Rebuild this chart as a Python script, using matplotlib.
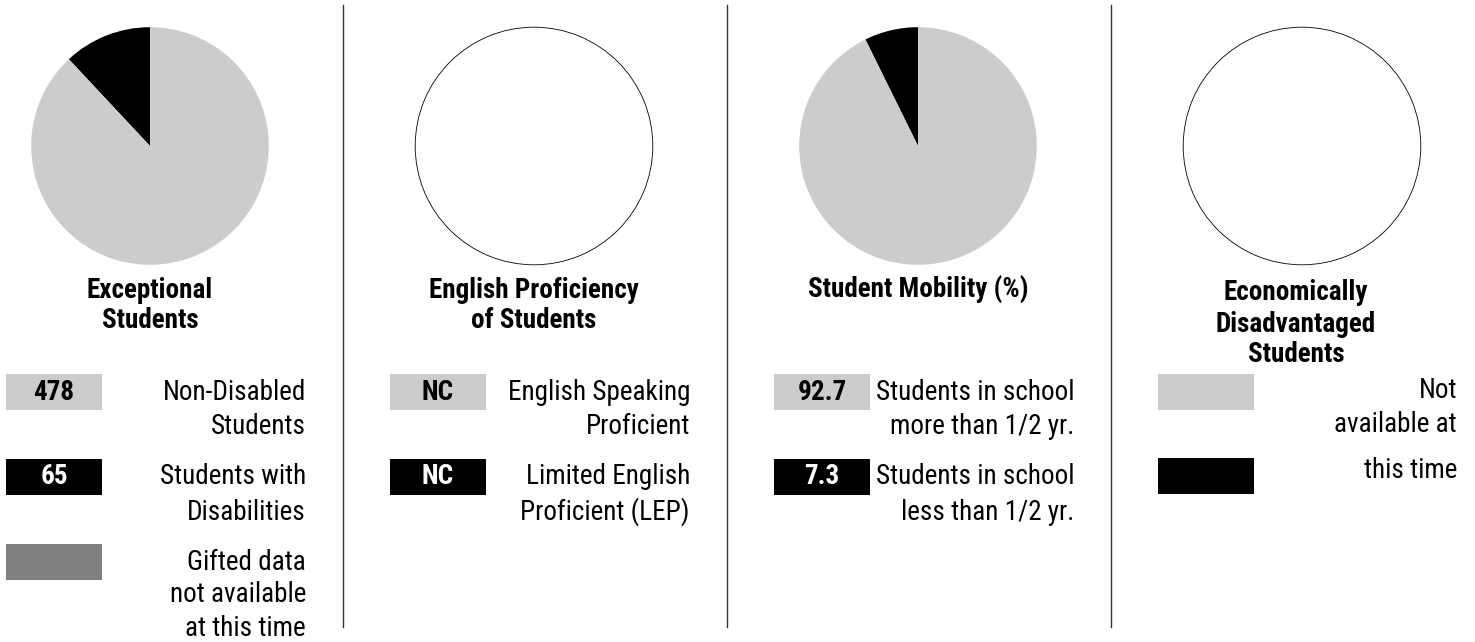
import matplotlib.pyplot as plt
from matplotlib.patches import Rectangle

plt.rcParams['font.family'] = ['Roboto Condensed', 'Roboto', 'DejaVu Sans']

# data
titles = ["Exceptional\nStudents", "English Proficiency\nof Students",
          "Student Mobility (%)", "Economically\nDisadvantaged\nStudents"]
pie_values = [[65, 478], [], [7.3, 92.7], []]
box_values = [["478", "65", ""], ["NC", "NC"], ["92.7", "7.3"], ["", ""]]
box_labels = [["Non-Disabled\nStudents", "Students with\nDisabilities",
               "Gifted data\nnot available\nat this time"],
              ["English Speaking\nProficient", "Limited English\nProficient (LEP)"],
              ["Students in school\nmore than 1/2 yr.", "Students in school\nless than 1/2 yr."],
              ["Not\navailable at", "this time"]]
pie_colors = ["black", "#cccccc"]
box_colors = ["#cccccc", "black", "#808080"]
box_text_colors = ["black", "white", "white"]

W, H = 1475, 642
fig = plt.figure(figsize=(W / 100, H / 100), dpi=100)

# overlay axes in pixel coordinates
ov = fig.add_axes([0, 0, 1, 1])
ov.set_xlim(0, W)
ov.set_ylim(H, 0)
ov.axis('off')

pane_w = 384
for i in range(4):
    x0 = i * pane_w
    cx = x0 + 150
    # pie
    pax = fig.add_axes([(cx - 120) / W, (H - 266) / H, 240 / W, 240 / H])
    if pie_values[i]:
        pax.pie(pie_values[i], colors=pie_colors, startangle=90,
                counterclock=True, radius=1)
    else:
        pax.pie([1], colors=["white"], radius=1,
                wedgeprops=dict(edgecolor="black", linewidth=0.6))
    pax.set_xlim(-1.01, 1.01)
    pax.set_ylim(-1.01, 1.01)
    pax.set_aspect('equal')
    pax.axis('off')

    # title
    ty = 290 if i < 3 else 293
    tx = cx if i < 3 else cx - 6
    for j, line in enumerate(titles[i].split("\n")):
        ov.text(tx, ty + j * 31, line, ha='center', va='center',
                fontsize=19.5, fontweight='bold')

    # legend boxes
    for k, val in enumerate(box_values[i]):
        by = 374 + k * 85
        if i == 3:
            by = 374 + k * 84
        ov.add_patch(Rectangle((x0 + 6, by), 96, 36, facecolor=box_colors[k],
                               edgecolor='none'))
        if val:
            ov.text(x0 + 54, by + 18, val, ha='center', va='center',
                    fontsize=19.5, fontweight='bold', color=box_text_colors[k])
        ly = by + 18
        if i == 3 and k == 1:
            ly = 470
        elif i == 3:
            ly = 390
        lines = box_labels[i][k].split("\n")
        step = 35 if len(lines) < 3 else 33
        for j, line in enumerate(lines):
            ov.text(x0 + 306 if i < 3 else x0 + 305, ly + j * step, line,
                    ha='right', va='center', fontsize=19.5)

    # separator
    if i < 3:
        ov.plot([x0 + 343, x0 + 343], [5, 627], color='#333333', linewidth=1)

fig.savefig("out.png", dpi=100)
